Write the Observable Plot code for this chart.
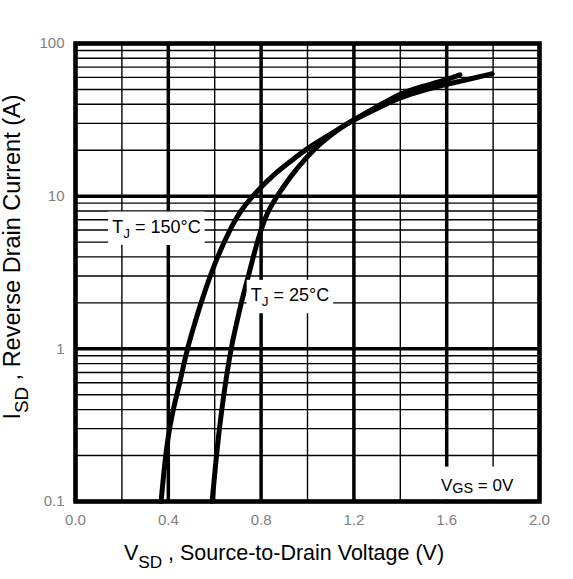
<!DOCTYPE html>
<html>
<head>
<meta charset="utf-8">
<script src="https://cdn.jsdelivr.net/npm/d3@7"></script>
<script src="https://cdn.jsdelivr.net/npm/@observablehq/plot@0.6"></script>
<style>
  html, body { margin: 0; padding: 0; background: #fff; }
  #chart { width: 573px; height: 579px; }
</style>
</head>
<body>
<div id="chart"></div>
<script>
// ---- data ----
const xMajorTicks = [0.0, 0.4, 0.8, 1.2, 1.6, 2.0];
const xMinorTicks = [0.2, 0.6, 1.0, 1.4, 1.8];
const yDecadeTicks = [0.1, 1, 10, 100];
const yMinorTicks = [0.2, 0.3, 0.4, 0.5, 0.6, 0.7, 0.8, 0.9,
                     2, 3, 4, 5, 6, 7, 8, 9,
                     20, 30, 40, 50, 60, 70, 80, 90];

const v150 = [0.369, 0.388, 0.412, 0.45, 0.481, 0.517, 0.543, 0.603, 0.668, 0.72, 0.783, 0.85, 0.927, 1.0, 1.1, 1.185, 1.30, 1.40, 1.50, 1.60, 1.657];
const i150 = [0.1, 0.205, 0.356, 0.6, 1.0, 1.52, 2.06, 3.76, 6.2, 8.4, 10.8, 13.7, 16.9, 20.7, 25.5, 30.9, 38.5, 47.3, 52.6, 57.9, 62.4];

const v25 = [0.589, 0.608, 0.625, 0.668, 0.697, 0.716, 0.740, 0.783, 0.826, 0.884, 0.927, 1.0, 1.06, 1.12, 1.185, 1.30, 1.40, 1.50, 1.602, 1.70, 1.796];
const i25 = [0.1, 0.205, 0.356, 1.0, 1.52, 2.06, 2.78, 5.07, 7.98, 10.8, 13.5, 18.3, 22.5, 26.5, 30.9, 37.5, 44.4, 49.5, 54.2, 58.5, 63.4];

const labelTexts = ["T_{J} = 150°C", "T_{J} = 25°C", "V_{GS} = 0V"];
const labelX = [0.158, 0.755, 1.575];
const labelY = [6.3, 2.25, 0.128];

const series = [
  ...v150.map((v, k) => ({ v, i: i150[k], s: "150" })),
  ...v25.map((v, k) => ({ v, i: i25[k], s: "25" }))
];
const labels = labelTexts.map((t, k) => ({ t, x: labelX[k], y: labelY[k] }));
const tLabels = labels.slice(0, 2);
const vLabels = labels.slice(2);

const chart = Plot.plot({
  width: 573,
  height: 579,
  marginLeft: 75,
  marginRight: 34,
  marginTop: 43,
  marginBottom: 78,
  style: { fontFamily: "Liberation Sans, Arial, sans-serif", fontSize: "15px", color: "#808080", background: "white" },
  x: { domain: [0, 2], ticks: xMajorTicks, tickFormat: d3.format(".1f"), tickSize: 0, tickPadding: 13, label: null },
  y: { type: "log", domain: [0.1, 100], ticks: yDecadeTicks, tickFormat: d => String(d), tickSize: 0, tickPadding: 11, label: null },
  marks: [
    Plot.ruleY(yMinorTicks, { stroke: "black", strokeWidth: 1.4 }),
    Plot.ruleX(xMinorTicks, { stroke: "black", strokeWidth: 1.4 }),
    Plot.ruleY(yDecadeTicks, { stroke: "black", strokeWidth: 3.5 }),
    Plot.ruleX(xMajorTicks, { stroke: "black", strokeWidth: 3.5 }),
    Plot.line(series, { x: "v", y: "i", z: "s", stroke: "black", strokeWidth: 5, curve: "basis" }),
    Plot.text(tLabels, { x: "x", y: "y", text: "t", textAnchor: "start", fill: "black", fontSize: 18 }),
    Plot.text(vLabels, { x: "x", y: "y", text: "t", textAnchor: "start", fill: "black", fontSize: 17 }),
    Plot.frame({ stroke: "black", strokeWidth: 4.5 })
  ]
});

document.getElementById("chart").appendChild(chart);

// rich text helper: "_{...}" -> subscript
function rich(textEl, str, fontPx, subScale, shiftEm) {
  const sel = d3.select(textEl);
  sel.text(null);
  const parts = str.split(/(_\{[^}]*\})/).filter(p => p);
  let shifted = 0;
  parts.forEach(p => {
    const m = p.match(/^_\{(.*)\}$/);
    if (m) {
      const dy = fontPx * shiftEm;
      sel.append("tspan").attr("font-size", (fontPx * subScale) + "px").attr("dy", (dy - shifted)).text(m[1]);
      shifted = dy;
    } else {
      sel.append("tspan").attr("dy", -shifted).text(p);
      shifted = 0;
    }
  });
}

const svg = d3.select(chart);
const textGroups = svg.selectAll('g[aria-label="text"]');
const firstGroup = textGroups.node();
const bgLayer = d3.select(chart).insert("g", () => firstGroup).attr("class", "label-bg");
textGroups.selectAll("text").each(function () {
  const t = this.textContent;
  if (t.includes("_{")) {
    const isV = t.startsWith("V");
    rich(this, t, isV ? 17 : 18, isV ? 0.85 : 0.75, isV ? 0.12 : 0.3);
    const bb = this.getBBox();
    const ctm = this.getCTM();
    const padX = 4, padTop = isV ? 9 : 5, padBottom = isV ? 4 : 4;
    const x0 = ctm.e + bb.x - padX, y0 = ctm.f + bb.y - padTop;
    bgLayer.append("rect")
      .attr("x", x0).attr("y", y0)
      .attr("width", bb.width + 2 * padX + (isV ? 8 : 0))
      .attr("height", bb.height + padTop + padBottom)
      .attr("fill", "white");
  }
});

// axis titles
const xt = svg.append("text")
  .attr("x", 284).attr("y", 560)
  .attr("text-anchor", "middle")
  .attr("font-size", "21.5px")
  .attr("fill", "black")
  .attr("font-family", "Liberation Sans, Arial, sans-serif");
rich(xt.node(), "V_{SD} , Source-to-Drain Voltage (V)", 21.5, 0.8, 0.35);

const yt = svg.append("text")
  .attr("transform", "translate(20,257) rotate(-90)")
  .attr("text-anchor", "middle")
  .attr("font-size", "23.5px")
  .attr("fill", "black")
  .attr("font-family", "Liberation Sans, Arial, sans-serif");
rich(yt.node(), "I_{SD} , Reverse Drain Current (A)", 23.5, 0.8, 0.35);
</script>
</body>
</html>
